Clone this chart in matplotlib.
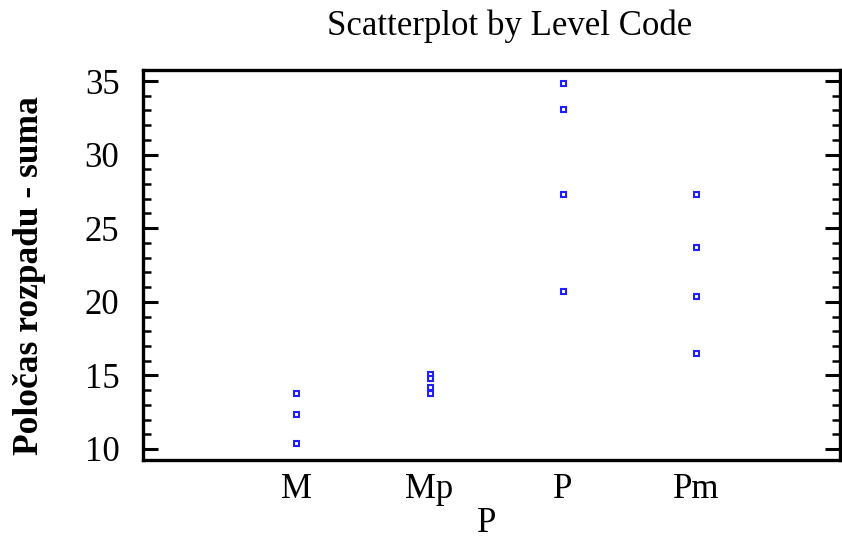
import numpy as np
import matplotlib
matplotlib.use("Agg")
import matplotlib.pyplot as plt
from matplotlib.ticker import MultipleLocator

# Data
levels = ["M", "Mp", "P", "Pm"]
vals_M = [13.8, 12.4, 10.4]
vals_Mp = [15.1, 14.8, 14.2, 13.8]
vals_P = [34.9, 33.1, 27.3, 20.7]
vals_Pm = [27.3, 23.7, 20.4, 16.5]
groups = [vals_M, vals_Mp, vals_P, vals_Pm]

plt.rcParams["font.family"] = ["Liberation Serif", "DejaVu Serif"]

fig = plt.figure(figsize=(8.42, 5.39), dpi=100)
ax = fig.add_axes([143/842, 79/539, 697/842, 390/539])

for i, g in enumerate(groups):
    ax.plot([i]*len(g), g, linestyle="none", marker="s", ms=3.6, mew=1.5,
            mec="#1f1fff", mfc="white")

ax.set_xlim(-1.15, 4.08)
ax.set_ylim(9.25, 35.75)
ax.set_xticks(range(len(levels)))
ax.set_xticklabels(levels)
ax.yaxis.set_major_locator(MultipleLocator(5))
ax.yaxis.set_minor_locator(MultipleLocator(1))

ax.tick_params(axis="x", length=0, pad=9, labelsize=25)
ax.tick_params(axis="y", which="major", direction="in", length=11, width=2.2,
               left=True, right=True, labelsize=25, pad=17)
ax.tick_params(axis="y", which="minor", direction="in", length=6, width=1.8,
               left=True, right=True)
for s in ax.spines.values():
    s.set_linewidth(2.4)

fig.text(510/842, 1 - 35/539, "Scatterplot by Level Code", ha="center",
         va="baseline", fontsize=25)
fig.text(30/842, 1 - 276/539, "Poločas rozpadu - suma", rotation=90,
         ha="center", va="center", fontsize=25.5, fontweight="bold")
fig.text(487/842, 7/539, "P", ha="center", va="baseline", fontsize=25)

fig.savefig("out.png", dpi=100)
